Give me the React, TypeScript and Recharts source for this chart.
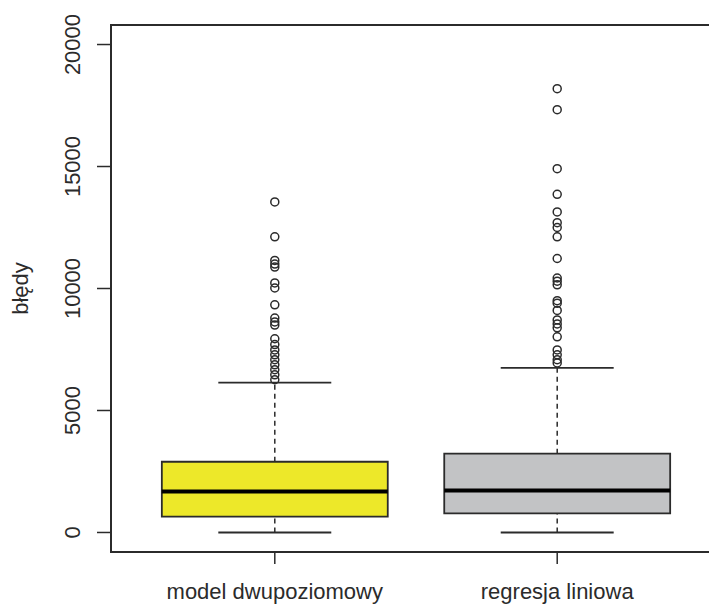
import {
  ComposedChart,
  ReferenceArea,
  ReferenceLine,
  Scatter,
  XAxis,
  YAxis,
} from "recharts";

const categories = ["model dwupoziomowy", "regresja liniowa"];
const lowerWhisker = [0, 0];
const q1 = [650, 780];
const median = [1680, 1720];
const q3 = [2900, 3230];
const upperWhisker = [6140, 6750];
const boxFills = ["#ede829", "#c2c3c5"];

const outliersModel = [
  13550, 12120, 11150, 11000, 10880, 10230, 10020, 9330, 8790, 8630, 8500,
  7940, 7700, 7480, 7280, 7080, 6870, 6670, 6460, 6260,
];
const outliersRegresja = [
  18190, 17330, 14910, 13860, 13140, 12700, 12500, 12120, 11230, 10430,
  10300, 10150, 9500, 9400, 9100, 8710, 8550, 8390, 8020, 7480, 7280, 7080,
  6950,
];

const yTicks = [0, 5000, 10000, 15000, 20000];

const ink = "#2b2b2b";
const font = "'Liberation Sans', Arial, sans-serif";

const points = [
  ...outliersModel.map((y) => ({ x: 1, y })),
  ...outliersRegresja.map((y) => ({ x: 2, y })),
];

function Ring(props: any) {
  const { cx, cy } = props;
  return <circle cx={cx} cy={cy} r={4} fill="none" stroke={ink} strokeWidth={1.5} />;
}

function YTick({ x, y, payload }: any) {
  const bx = x - 15;
  return (
    <text
      x={bx}
      y={y}
      transform={`rotate(-90 ${bx} ${y})`}
      textAnchor="middle"
      fontSize={22}
      fontFamily={font}
      fill={ink}
    >
      {payload.value}
    </text>
  );
}

function XTick({ x, y, payload }: any) {
  return (
    <text x={x} y={y + 33} textAnchor="middle" fontSize={22} fontFamily={font} fill={ink}>
      {categories[payload.value - 1]}
    </text>
  );
}

export default function App() {
  return (
    <div
      style={{
        position: "absolute",
        left: 0,
        top: 0,
        width: 709,
        height: 608,
        overflow: "hidden",
        background: "#fff",
      }}
    >
      <ComposedChart
        width={731}
        height={608}
        margin={{ top: 25, right: 10, bottom: 0, left: 0 }}
      >
        <XAxis
          type="number"
          dataKey="x"
          domain={[0.42, 2.58]}
          ticks={[1, 2]}
          height={56}
          axisLine={false}
          tickSize={12}
          tickLine={{ stroke: ink, strokeWidth: 1.5 }}
          tick={<XTick />}
        />
        <YAxis
          type="number"
          dataKey="y"
          domain={[-800, 20800]}
          ticks={yTicks}
          width={111}
          axisLine={false}
          tickSize={14}
          tickLine={{ stroke: ink, strokeWidth: 1.5 }}
          tick={<YTick />}
          label={{
            content: ({ viewBox }: any) => {
              const lx = viewBox.x + 28;
              const ly = viewBox.y + viewBox.height / 2;
              return (
                <text
                  x={lx}
                  y={ly}
                  transform={`rotate(-90 ${lx} ${ly})`}
                  textAnchor="middle"
                  fontSize={22}
                  fontFamily={font}
                  fill={ink}
                >
                  błędy
                </text>
              );
            },
          }}
        />

        <ReferenceArea
          x1={0.42}
          x2={2.58}
          y1={-800}
          y2={20800}
          fill="none"
          fillOpacity={0}
          stroke={ink}
          strokeWidth={2}
          ifOverflow="visible"
        />

        {categories.map((c, i) => {
          const p = i + 1;
          return [
            <ReferenceLine
              key={`lw-${c}`}
              segment={[
                { x: p, y: lowerWhisker[i] },
                { x: p, y: q1[i] },
              ]}
              stroke={ink}
              strokeWidth={1.5}
              strokeDasharray="5 4"
            />,
            <ReferenceLine
              key={`uw-${c}`}
              segment={[
                { x: p, y: q3[i] },
                { x: p, y: upperWhisker[i] },
              ]}
              stroke={ink}
              strokeWidth={1.5}
              strokeDasharray="5 4"
            />,
            <ReferenceLine
              key={`lc-${c}`}
              segment={[
                { x: p - 0.2, y: lowerWhisker[i] },
                { x: p + 0.2, y: lowerWhisker[i] },
              ]}
              stroke={ink}
              strokeWidth={1.8}
            />,
            <ReferenceLine
              key={`uc-${c}`}
              segment={[
                { x: p - 0.2, y: upperWhisker[i] },
                { x: p + 0.2, y: upperWhisker[i] },
              ]}
              stroke={ink}
              strokeWidth={1.8}
            />,
            <ReferenceArea
              key={`box-${c}`}
              x1={p - 0.4}
              x2={p + 0.4}
              y1={q1[i]}
              y2={q3[i]}
              fill={boxFills[i]}
              fillOpacity={1}
              stroke={ink}
              strokeWidth={1.8}
            />,
            <ReferenceLine
              key={`med-${c}`}
              segment={[
                { x: p - 0.4, y: median[i] },
                { x: p + 0.4, y: median[i] },
              ]}
              stroke="#000"
              strokeWidth={4}
            />,
          ];
        })}

        <Scatter data={points} dataKey="y" shape={<Ring />} isAnimationActive={false} />
      </ComposedChart>
    </div>
  );
}
